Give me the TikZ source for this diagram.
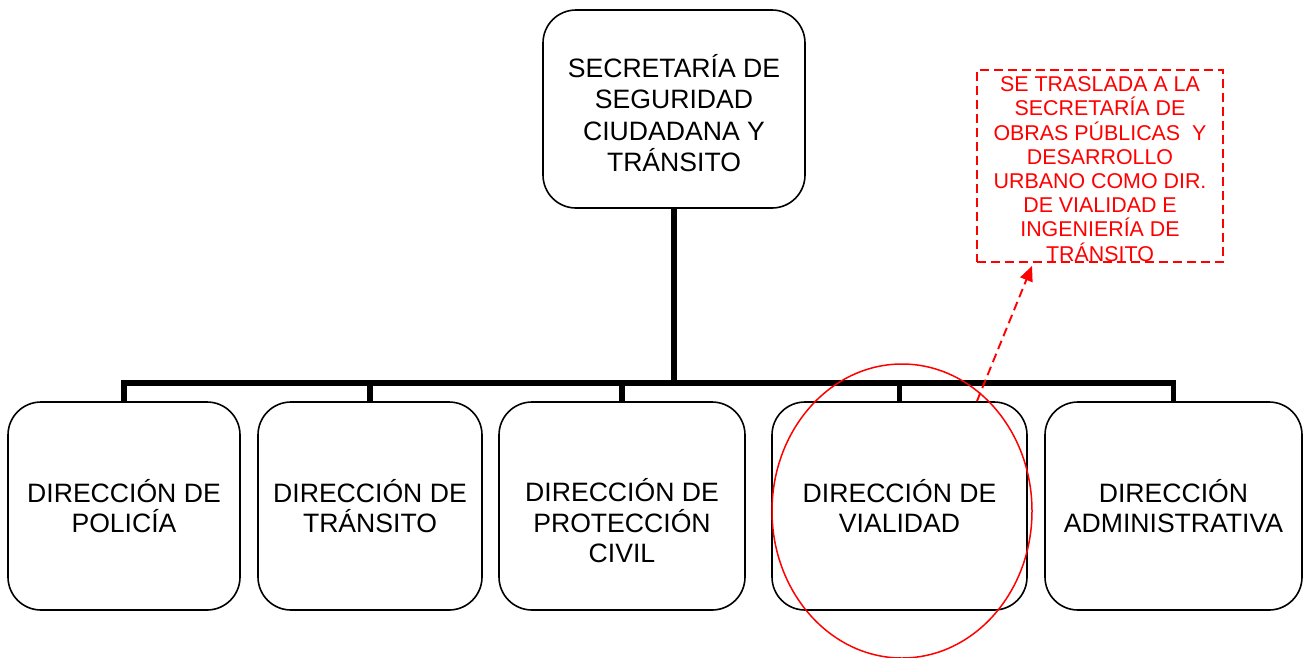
\documentclass[tikz,border=0pt]{standalone}
\usepackage{fontspec}
\setmainfont{Liberation Sans}
\usetikzlibrary{arrows.meta,shapes.geometric}
\definecolor{myred}{RGB}{255,0,0}
\tikzset{
  orgbox/.style={draw=black, line width=1.6pt, rounded corners=33pt, inner sep=0pt, fill=white},
  txt/.style={align=center, inner sep=0pt, font=\fontsize{26.6}{30.5}\selectfont},
  toptxt/.style={align=center, inner sep=0pt, font=\fontsize{26.6}{31.5}\selectfont},
  redtxt/.style={align=center, inner sep=0pt, text=myred, font=\fontsize{21.4}{24.2}\selectfont},
  conn/.style={draw=black, line width=5.5pt},
  redbox/.style={draw=myred, line width=1.9pt, dash pattern=on 9pt off 5pt, inner sep=0pt},
  redarrow/.style={draw=myred, line width=1.9pt, dash pattern=on 9pt off 5pt, -{Triangle[length=15pt,width=13pt]}},
  redell/.style={draw=myred, line width=1.5pt, ellipse, inner sep=0pt}
}
\begin{document}
\begin{tikzpicture}[x=1pt,y=-1pt]
\useasboundingbox (0,0) rectangle (1304,657);
% top box
\node[orgbox, minimum width=262pt, minimum height=198pt] (sec) at (674,109) {};
\node[toptxt] (sect) at (674,113) {SECRETARÍA DE\\SEGURIDAD\\CIUDADANA Y\\TRÁNSITO};
% bottom boxes
\node[orgbox, minimum width=232pt, minimum height=208pt] (b1) at (124,506) {};
\node[orgbox, minimum width=224pt, minimum height=208pt] (b2) at (370,506) {};
\node[orgbox, minimum width=246pt, minimum height=208pt] (b3) at (622,506) {};
\node[orgbox, minimum width=255pt, minimum height=208pt] (b4) at (899.5,506) {};
\node[orgbox, minimum width=257pt, minimum height=208pt] (b5) at (1173.5,506) {};
\node[txt] (t1) at (124,506) {DIRECCIÓN DE\\POLICÍA};
\node[txt] (t2) at (370,506) {DIRECCIÓN DE\\TRÁNSITO};
\node[txt] (t3) at (622,521) {DIRECCIÓN DE\\PROTECCIÓN\\CIVIL};
\node[txt] (t4) at (899.5,506) {DIRECCIÓN DE\\VIALIDAD};
\node[txt] (t5) at (1173.5,506) {DIRECCIÓN\\ADMINISTRATIVA};
% connectors
\coordinate (bus) at (0,383);
\draw[conn] (b1.north) -- (b1.north |- bus) -- (b5.north |- bus) -- (b5.north);
\draw[conn] (b2.north) -- (b2.north |- bus);
\draw[conn] (b3.north) -- (b3.north |- bus);
\draw[conn] (b4.north) -- (b4.north |- bus);
\draw[conn] (sec.south) -- (sec.south |- bus);
% red annotation
\node[redbox, minimum width=246pt, minimum height=192pt] (rbox) at (1100,166) {};
\node[redtxt] (rtxt) at (1100,169) {SE TRASLADA A LA\\SECRETARÍA DE\\OBRAS PÚBLICAS\ \ Y\\DESARROLLO\\URBANO COMO DIR.\\DE VIALIDAD E\\INGENIERÍA DE\\TRÁNSITO};
\node[redell, minimum width=260pt, minimum height=294pt] (ell) at (902,511) {};
\coordinate (as) at (977,401);
\draw[redarrow] (as) -- ([xshift=-68pt,yshift=-3pt]rbox.south);
\end{tikzpicture}
\end{document}
